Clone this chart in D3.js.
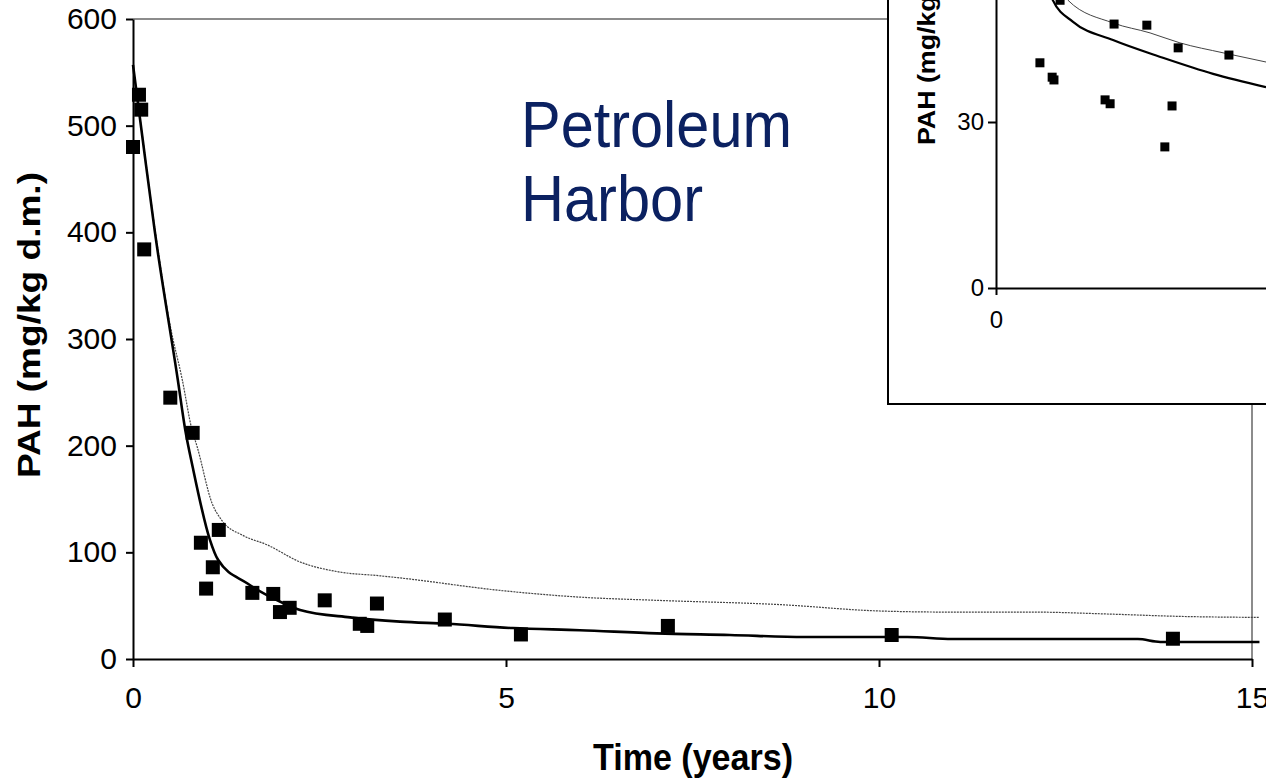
<!DOCTYPE html>
<html>
<head>
<meta charset="utf-8">
<script src="https://d3js.org/d3.v7.min.js"></script>
<style>
  body { margin: 0; background: #fff; }
  text { font-family: "Liberation Sans", Arial, sans-serif; }
</style>
</head>
<body>
<div class="container"></div>
<script>
var svgWidth = 1266;
var svgHeight = 778;

// main chart data
var xTicks = [0, 5, 10, 15];
var yTicks = [0, 100, 200, 300, 400, 500, 600];

var obsTime = [0, 0.08, 0.11, 0.15, 0.5, 0.8, 0.91, 0.98, 1.07, 1.15, 1.6, 1.88, 1.97, 2.1, 2.57, 3.04, 3.14, 3.27, 4.18, 5.2, 7.17, 10.17, 13.94];
var obsPAH = [480, 529, 515, 384, 245, 212, 109, 66, 86, 121, 62, 61, 44, 48, 55, 33, 31, 52, 37, 23, 31, 22.5, 19];

var fitTime = [0, 0.13, 0.29, 0.6, 0.7, 0.8, 1.03, 1.14, 1.53, 2.01, 2.24, 2.91, 3.58, 4.21, 5.09, 5.99, 7.02, 8.0, 9.0, 10.38, 10.98, 13.47, 13.77, 15.1];
var fitPAH = [557, 487, 402, 262, 215, 180, 112, 93, 71, 52.5, 46, 39, 35, 33, 29, 27, 24, 22.5, 20.6, 20.6, 18.7, 18.7, 16, 16];

var fit2Time = [0, 0.13, 0.29, 0.5, 0.66, 0.79, 0.86, 1.06, 1.19, 1.47, 1.8, 2.24, 2.73, 3.31, 3.58, 4.96, 5.99, 7.02, 8.67, 10.01, 10.91, 12.02, 13.14, 14.0, 15.1];
var fit2PAH = [557, 488, 405, 312, 262, 215, 199, 146, 130, 116, 107, 91, 82, 78, 76, 64, 58, 55, 51, 45, 44, 44, 42, 40, 39];

// inset data
var insetYTicks = [0, 30];
var insetXTicks = [0];
var insetObsX = [1.22, 1.56, 1.61, 1.78, 3.03, 3.17, 3.28, 4.19, 4.69, 4.89, 5.06, 6.47];
var insetObsY = [40.7, 38.1, 37.6, 52, 34, 33.3, 47.7, 47.5, 25.5, 32.9, 43.4, 42.1];
var insetFitX = [1.0, 1.2, 1.58, 2.14, 3.25, 4.64, 6.03, 7.5];
var insetFitY = [75, 62, 52, 48.1, 44.8, 41.6, 38.7, 36.3];
var insetFit2X = [1.4, 1.7, 2.0, 3.25, 4.28, 5.11, 6.31, 7.53];
var insetFit2Y = [70, 58, 52, 47.9, 46.1, 44.3, 42.5, 40.8];

var svg = d3.select(".container")
    .append("svg")
    .attr("width", svgWidth)
    .attr("height", svgHeight);

var x = d3.scaleLinear().domain([0, 15]).range([133, 1252]);
var y = d3.scaleLinear().domain([0, 600]).range([659, 19]);

// plot area frame (grey)
svg.append("path")
    .attr("d", `M${x(0)},${y(600)}H${x(15)}V${y(0)}`)
    .attr("fill", "none")
    .attr("stroke", "#8c8c8c")
    .attr("stroke-width", 2);

var leftAxis = d3.axisLeft(y).tickValues(yTicks).tickSize(7).tickSizeOuter(0).tickPadding(9);
var bottomAxis = d3.axisBottom(x).tickValues(xTicks).tickSize(8).tickSizeOuter(0).tickPadding(20);

var yAxisG = svg.append("g")
    .attr("transform", `translate(${x(0)},0)`)
    .call(leftAxis);
var xAxisG = svg.append("g")
    .attr("transform", `translate(0,${y(0)})`)
    .call(bottomAxis);

[yAxisG, xAxisG].forEach(function(g) {
    g.select(".domain").attr("stroke", "#000").attr("stroke-width", 2);
    g.selectAll(".tick line").attr("stroke", "#000").attr("stroke-width", 2);
    g.selectAll(".tick text")
        .attr("fill", "#000")
        .style("font-size", "30px")
        .style("font-family", "'Liberation Sans', Arial, sans-serif");
});

var fitLine = d3.line()
    .x(function(d) { return x(d[0]); })
    .y(function(d) { return y(d[1]); })
    .curve(d3.curveMonotoneX);

svg.append("path")
    .datum(d3.zip(fit2Time, fit2PAH))
    .attr("d", fitLine)
    .attr("fill", "none")
    .attr("stroke", "#444")
    .attr("stroke-width", 1.2)
    .attr("stroke-dasharray", "2,1");

svg.append("path")
    .datum(d3.zip(fitTime, fitPAH))
    .attr("d", fitLine)
    .attr("fill", "none")
    .attr("stroke", "#000")
    .attr("stroke-width", 2.6);

var mSize = 14;
svg.selectAll(".obs")
    .data(d3.zip(obsTime, obsPAH))
    .enter()
    .append("rect")
    .attr("class", "obs")
    .attr("x", function(d) { return x(d[0]) - mSize / 2; })
    .attr("y", function(d) { return y(d[1]) - mSize / 2; })
    .attr("width", mSize)
    .attr("height", mSize)
    .attr("fill", "#000");

// axis titles
svg.append("text")
    .attr("transform", "translate(40,325) rotate(-90)")
    .attr("text-anchor", "middle")
    .attr("textLength", 306)
    .attr("lengthAdjust", "spacingAndGlyphs")
    .style("font-size", "32px")
    .style("font-weight", "bold")
    .text("PAH (mg/kg d.m.)");

svg.append("text")
    .attr("x", 693)
    .attr("y", 770)
    .attr("text-anchor", "middle")
    .attr("textLength", 200)
    .attr("lengthAdjust", "spacingAndGlyphs")
    .style("font-size", "36px")
    .style("font-weight", "bold")
    .text("Time (years)");

// site name
var title = svg.append("text")
    .attr("fill", "#0b2161")
    .style("font-size", "64px");
title.append("tspan").attr("x", 521).attr("y", 147)
    .attr("textLength", 271).attr("lengthAdjust", "spacingAndGlyphs")
    .text("Petroleum");
title.append("tspan").attr("x", 521).attr("y", 221)
    .attr("textLength", 182).attr("lengthAdjust", "spacingAndGlyphs")
    .text("Harbor");

// inset chart
var inset = svg.append("g");
inset.append("rect")
    .attr("x", 888)
    .attr("y", -10)
    .attr("width", 400)
    .attr("height", 414)
    .attr("fill", "#fff")
    .attr("stroke", "#000")
    .attr("stroke-width", 2);

var ix = d3.scaleLinear().domain([0, 10]).range([996, 1356]);
var iy = d3.scaleLinear().domain([0, 60]).range([288, -44]);

var iyAxisG = inset.append("g")
    .attr("transform", `translate(${ix(0)},0)`)
    .call(d3.axisLeft(iy).tickValues(insetYTicks).tickSize(8).tickSizeOuter(0).tickPadding(4));
var ixAxisG = inset.append("g")
    .attr("transform", `translate(0,${iy(0)})`)
    .call(d3.axisBottom(ix).tickValues(insetXTicks).tickSize(7).tickSizeOuter(0).tickPadding(16));

[iyAxisG, ixAxisG].forEach(function(g) {
    g.select(".domain").attr("stroke", "#000").attr("stroke-width", 2);
    g.selectAll(".tick line").attr("stroke", "#000").attr("stroke-width", 2);
    g.selectAll(".tick text")
        .attr("fill", "#000")
        .style("font-size", "24px")
        .style("font-family", "'Liberation Sans', Arial, sans-serif");
});

var insetLine = d3.line()
    .x(function(d) { return ix(d[0]); })
    .y(function(d) { return iy(d[1]); })
    .curve(d3.curveMonotoneX);

inset.append("path")
    .datum(d3.zip(insetFit2X, insetFit2Y))
    .attr("d", insetLine)
    .attr("fill", "none")
    .attr("stroke", "#444")
    .attr("stroke-width", 1);

inset.append("path")
    .datum(d3.zip(insetFitX, insetFitY))
    .attr("d", insetLine)
    .attr("fill", "none")
    .attr("stroke", "#000")
    .attr("stroke-width", 2.2);

var iSize = 9;
inset.selectAll(".iobs")
    .data(d3.zip(insetObsX, insetObsY))
    .enter()
    .append("rect")
    .attr("class", "iobs")
    .attr("x", function(d) { return ix(d[0]) - iSize / 2; })
    .attr("y", function(d) { return iy(d[1]) - iSize / 2; })
    .attr("width", iSize)
    .attr("height", iSize)
    .attr("fill", "#000");

inset.append("text")
    .attr("transform", "translate(935,145) rotate(-90)")
    .attr("text-anchor", "start")
    .attr("textLength", 221)
    .attr("lengthAdjust", "spacingAndGlyphs")
    .style("font-size", "24px")
    .style("font-weight", "bold")
    .text("PAH (mg/kg d.m.)");
</script>
</body>
</html>
